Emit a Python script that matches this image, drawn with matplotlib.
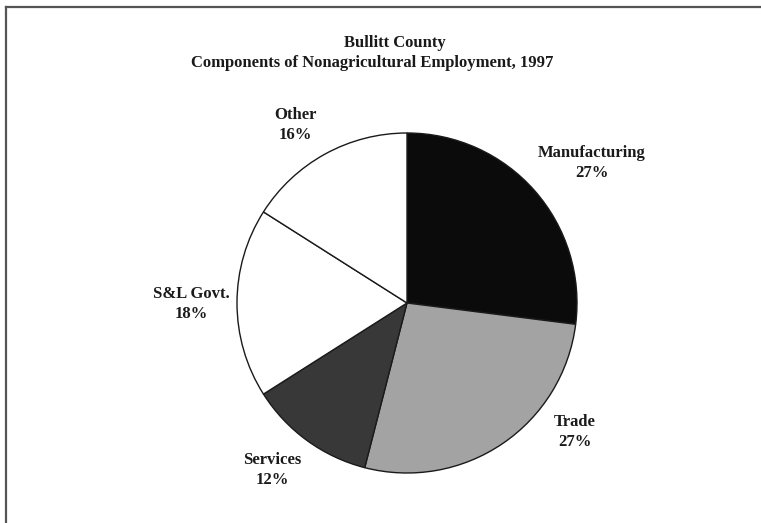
import matplotlib
matplotlib.use("Agg")
import matplotlib.pyplot as plt
from matplotlib.lines import Line2D

# data
sectors = ["Manufacturing", "Trade", "Services", "S&L Govt.", "Other"]
shares = [27, 27, 12, 18, 16]
colors = ["#0b0b0b", "#a3a3a3", "#383838", "#ffffff", "#ffffff"]

# label centres in pixels (x, y from top)
label_pos = [(592, 163), (575, 432), (272, 470), (191, 304), (295, 125)]

W, H = 761, 523
plt.rcParams['font.family'] = ['Liberation Serif', 'DejaVu Serif']

fig = plt.figure(figsize=(W / 100, H / 100), dpi=100)
fig.patch.set_facecolor("white")

# pie centre (407, 303), radius 170 px
cx, cy, r = 407, 303, 170
ax = fig.add_axes([(cx - r) / W, (H - cy - r) / H, 2 * r / W, 2 * r / H])
wedges, _ = ax.pie(shares, colors=colors, startangle=90, counterclock=False,
                   radius=1, wedgeprops=dict(edgecolor="#1a1a1a", linewidth=1.0))
ax.set_xlim(-1, 1)
ax.set_ylim(-1, 1)
ax.axis("off")

for name, val, (px, py) in zip(sectors, shares, label_pos):
    fig.text(px / W, 1 - py / H, "%s\n%d%%" % (name, val), ha="center", va="center",
             fontsize=12, fontweight="bold", color="#1a1a1a", linespacing=1.3)

fig.text(395 / W, 1 - 43 / H, "Bullitt County", ha="center", va="center",
         fontsize=12, fontweight="bold", color="#1a1a1a")
fig.text(372 / W, 1 - 63 / H, "Components of Nonagricultural Employment, 1997",
         ha="center", va="center", fontsize=12, fontweight="bold", color="#1a1a1a")

# frame lines (top and left)
fig.add_artist(Line2D([6 / W, 1.0], [1 - 7 / H, 1 - 7 / H], color="#555555", lw=1.6))
fig.add_artist(Line2D([6 / W, 6 / W], [0, 1 - 7 / H], color="#555555", lw=1.6))

fig.savefig("out.png", dpi=100)
